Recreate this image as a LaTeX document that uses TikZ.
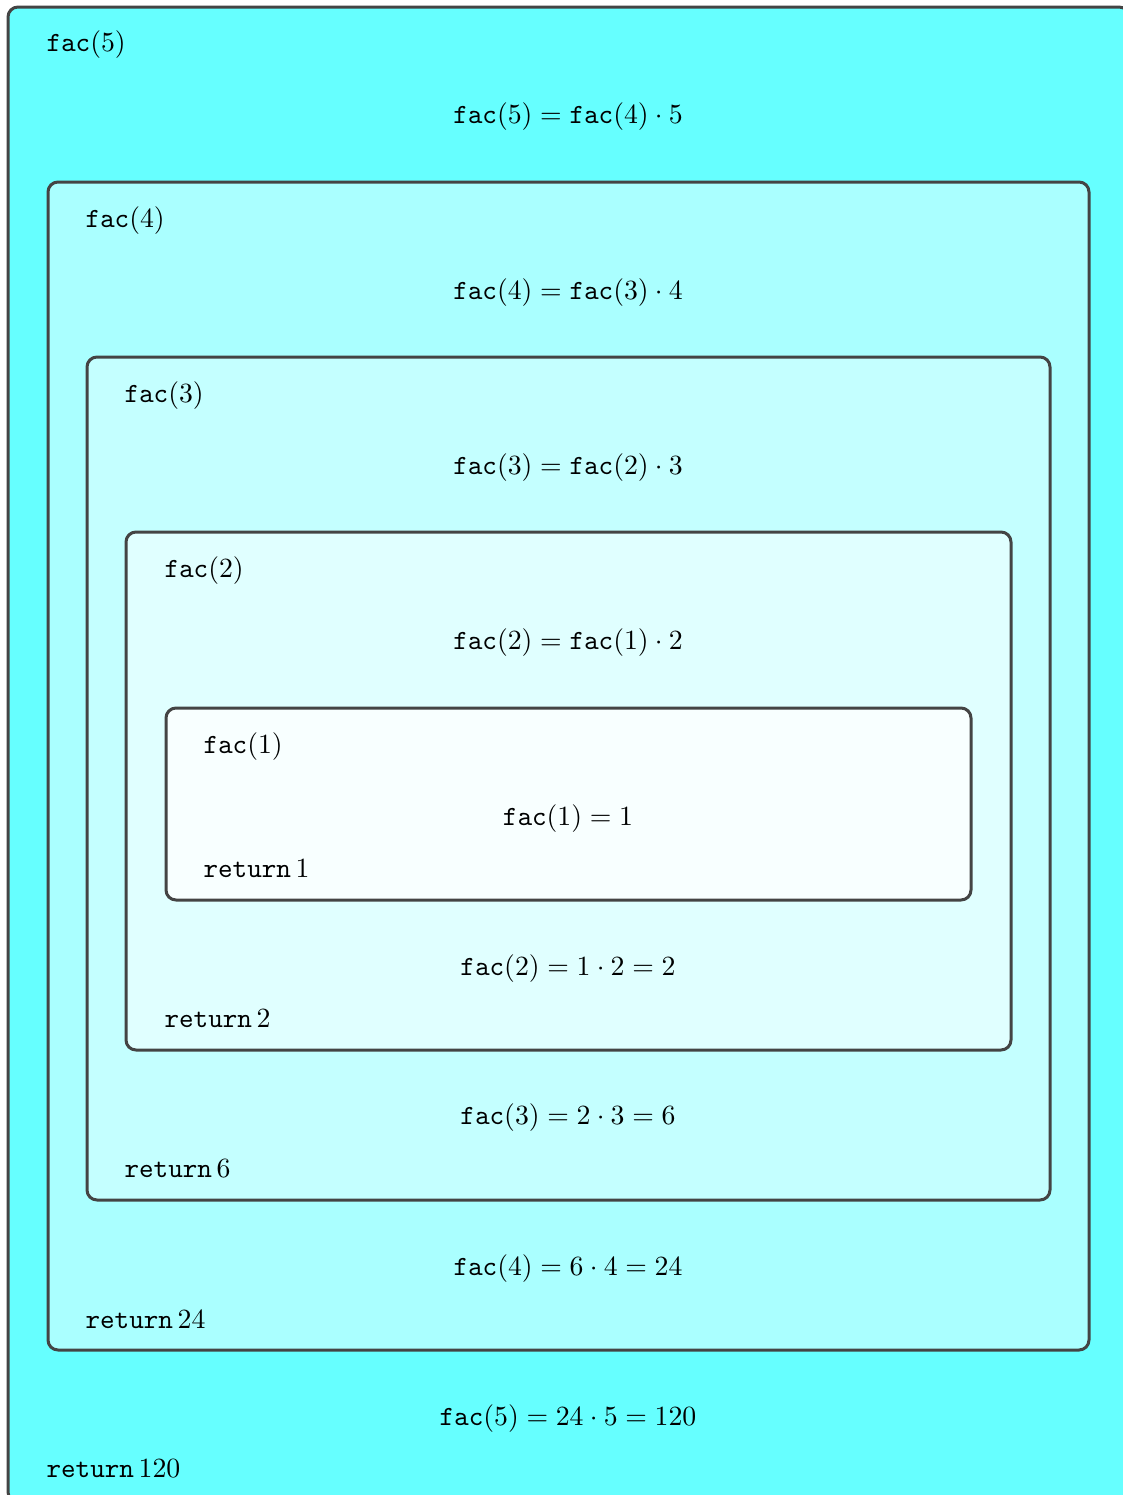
\documentclass[tikz,border=0pt]{standalone}
\definecolor{cfive}{HTML}{66FFFF}
\definecolor{cfour}{HTML}{AAFFFF}
\definecolor{cthree}{HTML}{C4FFFF}
\definecolor{ctwo}{HTML}{E0FFFF}
\definecolor{cone}{HTML}{F8FFFF}
\definecolor{bord}{HTML}{444444}
\tikzset{
  callbox/.style={draw=bord, line width=1.08pt, rounded corners=3.6pt},
  lbl/.style={anchor=mid west, inner sep=0pt, yshift=-1.4pt},
  eqn/.style={anchor=mid, inner sep=0pt, yshift=-1.4pt},
}
\newcommand{\ret}[1]{\texttt{return}\,#1}
\begin{document}
\begin{tikzpicture}[x=0.36pt,y=-0.36pt]
\useasboundingbox (0,0) rectangle (1123,1495);
\clip (0,0) rectangle (1123,1495);
% boxes
\draw[callbox, fill=cfive]  (8,7) rectangle (1129,1502);
\draw[callbox, fill=cfour]  (48,182) rectangle (1089,1350);
\draw[callbox, fill=cthree] (87,357) rectangle (1050,1200);
\draw[callbox, fill=ctwo]   (126,532) rectangle (1011,1050);
\draw[callbox, fill=cone]   (166,708) rectangle (971,900);
% fac(5)
\node[lbl] (l5) at (46,42) {$\mathtt{fac}(5)$};
\node[eqn] (e5) at (568,114) {$\mathtt{fac}(5)=\mathtt{fac}(4)\cdot 5$};
% fac(4)
\node[lbl] (l4) at (85,218) {$\mathtt{fac}(4)$};
\node[eqn] (e4) at (568,290) {$\mathtt{fac}(4)=\mathtt{fac}(3)\cdot 4$};
% fac(3)
\node[lbl] (l3) at (124,393) {$\mathtt{fac}(3)$};
\node[eqn] (e3) at (568,465) {$\mathtt{fac}(3)=\mathtt{fac}(2)\cdot 3$};
% fac(2)
\node[lbl] (l2) at (164,568) {$\mathtt{fac}(2)$};
\node[eqn] (e2) at (568,640) {$\mathtt{fac}(2)=\mathtt{fac}(1)\cdot 2$};
% fac(1)
\node[lbl] (l1) at (203,744) {$\mathtt{fac}(1)$};
\node[eqn] (e1) at (568,816) {$\mathtt{fac}(1)=1$};
\node[lbl] (r1) at (203,868) {\ret{1}};
% returns
\node[eqn] (f2) at (568,966) {$\mathtt{fac}(2)=1\cdot 2=2$};
\node[lbl] (r2) at (164,1018) {\ret{2}};
\node[eqn] (f3) at (568,1115) {$\mathtt{fac}(3)=2\cdot 3=6$};
\node[lbl] (r3) at (124,1168) {\ret{6}};
\node[eqn] (f4) at (568,1266) {$\mathtt{fac}(4)=6\cdot 4=24$};
\node[lbl] (r4) at (85,1319) {\ret{24}};
\node[eqn] (f5) at (568,1416) {$\mathtt{fac}(5)=24\cdot 5=120$};
\node[lbl] (r5) at (46,1468) {\ret{120}};
\end{tikzpicture}
\end{document}
